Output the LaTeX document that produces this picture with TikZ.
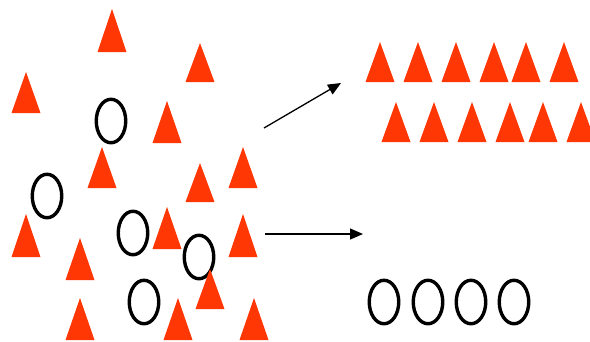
\documentclass[tikz,border=0pt]{standalone}
\usetikzlibrary{arrows.meta,shapes.geometric}

\definecolor{tricol}{RGB}{255,55,5}

\tikzset{
  ring/.style={draw=black, line width=3.4pt, ellipse, inner sep=0pt,
               minimum width=29.5pt, minimum height=43.5pt},
  arr/.style={line width=1.3pt, -{Triangle[length=13pt,width=11pt]}},
}

% filled triangle: apex x, apex y, base y (y grows downward)
\newcommand\trig[3]{\fill[tricol] (#1,#2) -- ({#1+14.5},#3) -- ({#1-14.5},#3) -- cycle;}

\begin{document}
\begin{tikzpicture}[x=1pt,y=-1pt]
\useasboundingbox (0,0) rectangle (590,341);
\fill[white] (0,0) rectangle (590,341);

% mixed cluster: triangles
\trig{112}{9}{52}
\trig{200}{43}{82}
\trig{26}{72}{113}
\trig{167}{101}{143}
\trig{102}{147}{188}
\trig{200}{163}{202}
\trig{243}{147}{188}
\trig{26}{214}{257}
\trig{80}{238}{280}
\trig{167}{207}{249}
\trig{243}{214}{257}
\trig{80}{298}{340}
\trig{178}{298}{340}
\trig{254}{298}{340}

% mixed cluster: circles
\node[ring] (c1) at (111,121) {};
\node[ring] (c2) at (47,196) {};
\node[ring] (c3) at (133,233) {};
\node[ring] (c5) at (144,302) {};
\node[ring] (c4) at (199,257) {};
\trig{210}{269}{309}

% sorted triangles, two rows
\foreach \x in {380,418,456,494,526,564} { \trig{\x}{42}{82} }
\foreach \x in {396,434,472,510,543,581} { \trig{\x}{102}{142} }

% sorted circles
\node[ring] (s1) at (384,302) {};
\node[ring] (s2) at (428,302) {};
\node[ring] (s3) at (471,302) {};
\node[ring] (s4) at (514,302) {};

% arrows
\coordinate (a1s) at (264,128);
\coordinate (a1e) at (341,83);
\coordinate (a2s) at (265,234);
\coordinate (a2e) at (363,234);
\draw[arr] (a1s) -- (a1e);
\draw[arr] (a2s) -- (a2e);
\end{tikzpicture}
\end{document}
